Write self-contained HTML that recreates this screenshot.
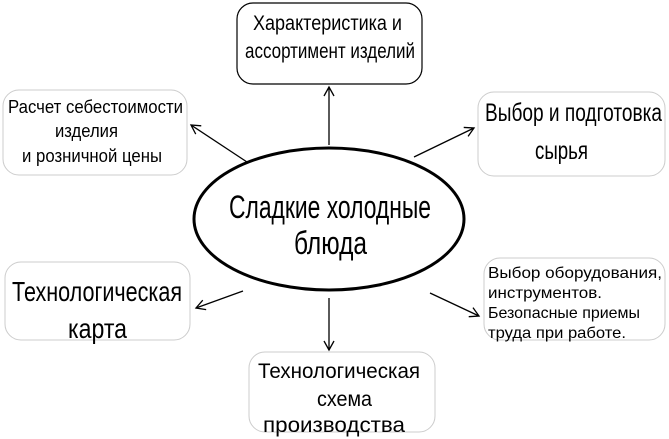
<!DOCTYPE html>
<html><head><meta charset="utf-8"><style>body{margin:0;background:#fff}svg{display:block}</style></head><body>
<svg width="669" height="439" viewBox="0 0 669 439" xmlns="http://www.w3.org/2000/svg" font-family="Liberation Sans, sans-serif" fill="#000">
<defs><marker id="a" markerWidth="12" markerHeight="12" refX="10" refY="6" orient="auto" markerUnits="userSpaceOnUse"><path d="M1,1 L10,6 L1,11" fill="none" stroke="#000" stroke-width="1.3"/></marker></defs>
<rect x="237" y="3" width="185" height="81" rx="16" fill="#fff" stroke="#000" stroke-width="1.2"/>
<rect x="3" y="90" width="184" height="85" rx="16" fill="#fff" stroke="#ccc" stroke-width="1"/>
<rect x="478" y="92" width="187" height="84" rx="16" fill="#fff" stroke="#ccc" stroke-width="1"/>
<rect x="5" y="262" width="185" height="78" rx="16" fill="#fff" stroke="#ccc" stroke-width="1"/>
<rect x="249" y="352" width="186" height="80" rx="16" fill="#fff" stroke="#ccc" stroke-width="1"/>
<rect x="484" y="258" width="181" height="82" rx="16" fill="#fff" stroke="#ccc" stroke-width="1"/>
<ellipse cx="329" cy="219" rx="135" ry="71" fill="#fff" stroke="#000" stroke-width="3"/>
<g stroke="#000" stroke-width="1.3" fill="none" marker-end="url(#a)">
<line x1="329" y1="145" x2="329" y2="87"/>
<line x1="247" y1="162" x2="191" y2="125"/>
<line x1="414" y1="157" x2="474" y2="128"/>
<line x1="243" y1="291" x2="196" y2="308"/>
<line x1="329" y1="298" x2="329" y2="350"/>
<line x1="430" y1="293" x2="479" y2="316"/>
</g>
<g font-size="21">
<text x="253" y="30" textLength="149" lengthAdjust="spacingAndGlyphs">Характеристика и</text>
<text x="245" y="58" textLength="170" lengthAdjust="spacingAndGlyphs">ассортимент изделий</text>
<text x="258" y="378" textLength="162" lengthAdjust="spacingAndGlyphs">Технологическая</text>
<text x="317" y="406" textLength="55" lengthAdjust="spacingAndGlyphs">схема</text>
<text x="263" y="432" textLength="142" lengthAdjust="spacingAndGlyphs">производства</text>
</g>
<g font-size="18">
<text x="8" y="113" textLength="175" lengthAdjust="spacingAndGlyphs">Расчет себестоимости</text>
<text x="55" y="137" textLength="63" lengthAdjust="spacingAndGlyphs">изделия</text>
<text x="22" y="162" textLength="140" lengthAdjust="spacingAndGlyphs">и розничной цены</text>
</g>
<g font-size="25">
<text x="485" y="121" textLength="177" lengthAdjust="spacingAndGlyphs">Выбор и подготовка</text>
<text x="535" y="159" textLength="53" lengthAdjust="spacingAndGlyphs">сырья</text>
</g>
<g font-size="28">
<text x="12" y="301" textLength="170" lengthAdjust="spacingAndGlyphs">Технологическая</text>
<text x="68" y="338" textLength="59" lengthAdjust="spacingAndGlyphs">карта</text>
</g>
<g font-size="32">
<text x="229" y="218" textLength="202" lengthAdjust="spacingAndGlyphs">Сладкие холодные</text>
<text x="294" y="254" textLength="73" lengthAdjust="spacingAndGlyphs">блюда</text>
</g>
<g font-size="16">
<text x="488" y="278" textLength="174" lengthAdjust="spacingAndGlyphs">Выбор оборудования,</text>
<text x="488" y="298" textLength="114" lengthAdjust="spacingAndGlyphs">инструментов.</text>
<text x="488" y="318" textLength="152" lengthAdjust="spacingAndGlyphs">Безопасные приемы</text>
<text x="488" y="338" textLength="138" lengthAdjust="spacingAndGlyphs">труда при работе.</text>
</g>
</svg>
</body></html>
